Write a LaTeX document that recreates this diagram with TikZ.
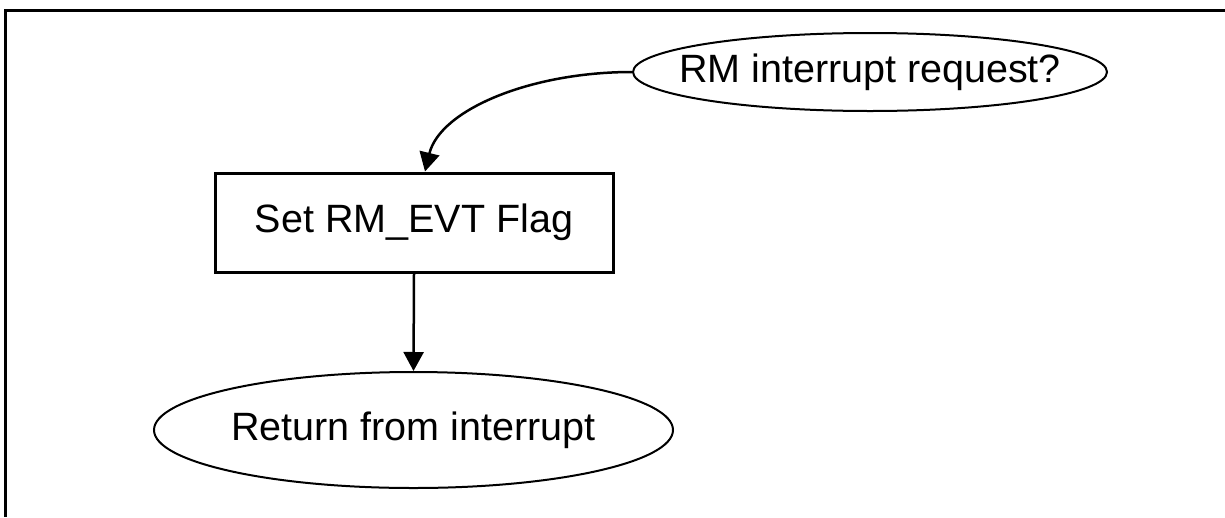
\documentclass[tikz,border=0pt]{standalone}
\usepackage{fontspec}
\setmainfont{Liberation Sans}
\usetikzlibrary{shapes.geometric,arrows.meta}
\begin{document}
\begin{tikzpicture}[x=1pt,y=-1pt,
  lbl/.style={font=\fontsize{39.5}{42}\selectfont},
  oval/.style={ellipse, draw, line width=2pt, inner sep=0pt, lbl},
  boxnode/.style={rectangle, draw, line width=3pt, inner sep=0pt, lbl},
  conn/.style={line width=2.5pt, -{Triangle[length=19pt,width=20pt]}}]
\useasboundingbox (0,0) rectangle (1225,517);
\draw[line width=3pt] (1225,10) -- (5,10) -- (5,517);
\node[oval, minimum width=474pt, minimum height=78pt] (req) at (870,72) {\makebox[0pt]{RM interrupt request?}};
\node[boxnode, minimum width=398pt, minimum height=99pt] (flag) at (414,222.5) {\makebox[0pt]{Set RM\_EVT Flag}};
\node[oval, minimum width=519pt, minimum height=116pt] (ret) at (413.5,430) {\makebox[0pt]{Return from interrupt}};
\draw[conn] (req.west) .. controls (530,72) and (440,110) .. ([xshift=11pt]flag.north);
\draw[conn] (flag.south) -- (ret.north);
\end{tikzpicture}
\end{document}
